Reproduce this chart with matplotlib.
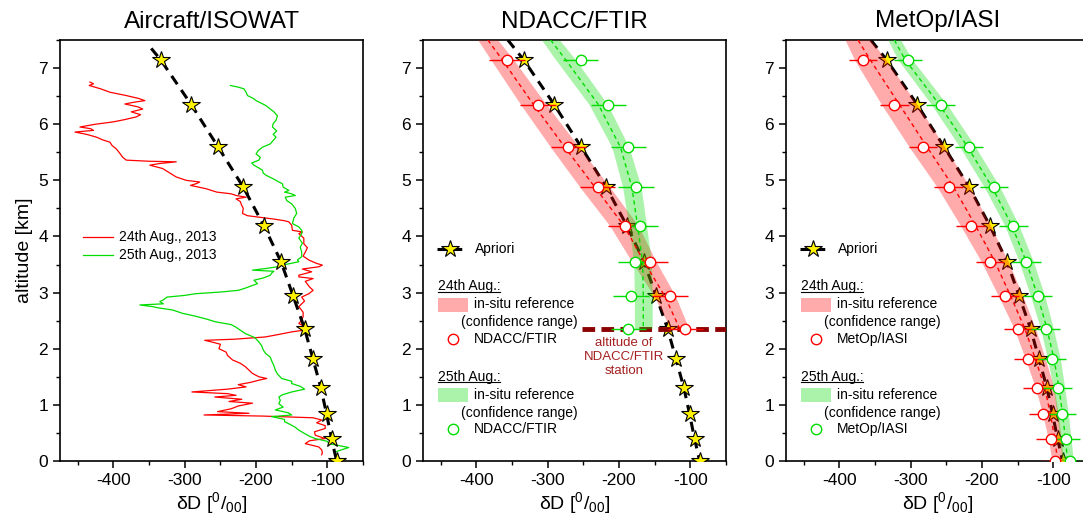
import matplotlib.pyplot as plt
from matplotlib.patches import Rectangle
from matplotlib.ticker import MultipleLocator

plt.rcParams['font.family'] = ['Liberation Sans', 'DejaVu Sans']
plt.rcParams['mathtext.fontset'] = 'custom'
plt.rcParams['mathtext.rm'] = 'Liberation Sans'
plt.rcParams['mathtext.it'] = 'Liberation Sans:italic'
plt.rcParams['axes.unicode_minus'] = False

# apriori profile (same in all panels)
apriori_alt = [7.15, 6.35, 5.59, 4.88, 4.19, 3.55, 2.94, 2.36, 1.81, 1.30, 0.83, 0.39, 0.0]
apriori_dD = [-334, -291, -253, -218, -189, -165, -148, -132, -120, -109, -101, -94, -87]
apriori_top_alt = [7.5, 7.35]      # upper end of the line: panels 2/3, panel 1
apriori_top_dD = [-356, -347]

# aircraft (ISOWAT) profiles
air24_alt = [6.75, 6.72, 6.69, 6.63, 6.57, 6.51, 6.46, 6.42, 6.39, 6.36, 6.31, 6.27, 6.22, 6.17,
             6.13, 6.08, 6.04, 6.00, 5.95, 5.92, 5.89, 5.86, 5.82, 5.77, 5.72, 5.68, 5.62, 5.56,
             5.48, 5.41, 5.36, 5.34, 5.33, 5.30, 5.27, 5.21, 5.14, 5.06, 5.00, 4.97, 4.94, 4.91,
             4.85, 4.79, 4.76, 4.73, 4.70, 4.67, 4.62, 4.58, 4.50, 4.41, 4.37, 4.35, 4.31, 4.28,
             4.26, 4.20, 4.11, 4.08, 4.05, 3.97, 3.87, 3.80, 3.72, 3.65, 3.58, 3.52, 3.49, 3.46,
             3.42, 3.37, 3.31, 3.28, 3.25, 3.20, 3.10, 3.04, 2.98, 2.92, 2.85, 2.75, 2.65, 2.57,
             2.51, 2.45, 2.39, 2.34, 2.30, 2.25, 2.21, 2.17, 2.15, 2.12, 2.08, 2.00, 1.94, 1.88,
             1.80, 1.74, 1.68, 1.62, 1.56, 1.50, 1.47, 1.44, 1.40, 1.36, 1.32, 1.28, 1.23, 1.20,
             1.17, 1.14, 1.10, 1.06, 1.03, 0.98, 0.93, 0.88, 0.85, 0.82, 0.80, 0.77, 0.73, 0.68,
             0.63, 0.58, 0.52, 0.46, 0.40, 0.36, 0.31, 0.25, 0.20, 0.15, 0.11]
air24_dD = [-433, -428, -434, -418, -405, -382, -365, -356, -372, -384, -366, -359, -375, -362,
            -368, -385, -401, -425, -447, -432, -428, -454, -438, -424, -415, -405, -402, -396,
            -391, -387, -382, -350, -312, -335, -349, -331, -322, -312, -298, -279, -284, -292,
            -270, -255, -235, -228, -214, -228, -222, -221, -218, -219, -212, -200, -175, -160,
            -154, -150, -149, -135, -140, -133, -133, -128, -131, -134, -126, -115, -107, -112,
            -135, -122, -140, -140, -120, -131, -125, -120, -126, -136, -132, -140, -134, -134,
            -136, -140, -131, -128, -150, -170, -187, -230, -272, -262, -250, -252, -242, -240,
            -233, -222, -215, -210, -205, -196, -185, -196, -208, -225, -214, -240, -290, -240,
            -228, -258, -220, -238, -205, -225, -235, -254, -210, -273, -190, -120, -108, -115,
            -103, -103, -118, -117, -103, -125, -131, -112, -108, -107, -108]

air25_alt = [6.69, 6.66, 6.63, 6.57, 6.51, 6.46, 6.42, 6.37, 6.33, 6.27, 6.22, 6.15, 6.07, 6.01,
             5.95, 5.88, 5.82, 5.77, 5.71, 5.65, 5.59, 5.53, 5.47, 5.41, 5.36, 5.31, 5.27, 5.22,
             5.18, 5.13, 5.09, 5.04, 5.00, 4.97, 4.94, 4.88, 4.82, 4.79, 4.76, 4.73, 4.70, 4.64,
             4.58, 4.50, 4.41, 4.33, 4.23, 4.17, 4.11, 4.05, 3.97, 3.88, 3.81, 3.72, 3.64, 3.58,
             3.55, 3.51, 3.49, 3.46, 3.43, 3.40, 3.38, 3.35, 3.31, 3.26, 3.22, 3.16, 3.08, 3.04,
             3.01, 2.98, 2.95, 2.92, 2.87, 2.84, 2.80, 2.78, 2.75, 2.73, 2.69, 2.63, 2.58, 2.53,
             2.48, 2.43, 2.39, 2.33, 2.27, 2.20, 2.12, 2.05, 1.98, 1.92, 1.85, 1.78, 1.70, 1.62,
             1.55, 1.47, 1.42, 1.38, 1.33, 1.28, 1.23, 1.18, 1.14, 1.08, 1.02, 0.96, 0.91, 0.86,
             0.82, 0.79, 0.74, 0.70, 0.65, 0.60, 0.55, 0.49, 0.44, 0.40, 0.35, 0.31, 0.27, 0.24,
             0.20, 0.16]
air25_dD = [-236, -225, -217, -214, -212, -204, -200, -192, -186, -180, -175, -170, -172, -176,
            -177, -171, -176, -172, -176, -180, -191, -197, -200, -194, -196, -206, -203, -196,
            -191, -190, -186, -178, -172, -168, -163, -162, -154, -160, -150, -145, -159, -157,
            -150, -145, -143, -147, -149, -140, -136, -136, -140, -135, -138, -136, -136, -142,
            -140, -155, -165, -170, -186, -205, -175, -178, -180, -190, -203, -198, -215, -225,
            -250, -285, -300, -325, -330, -335, -330, -363, -345, -338, -317, -303, -285, -270,
            -257, -235, -229, -222, -215, -202, -196, -192, -190, -187, -180, -178, -175, -173,
            -170, -164, -150, -150, -138, -132, -150, -163, -168, -166, -168, -162, -173, -155,
            -150, -178, -160, -160, -152, -145, -140, -132, -125, -117, -100, -98, -82, -70,
            -80, -89]

# NDACC/FTIR panel
ftir_alt = [7.15, 6.35, 5.59, 4.88, 4.19, 3.55, 2.94, 2.36]
ftir24_dD = [-357, -314, -271, -230, -191, -157, -129, -107]
ftir25_dD = [-254, -215, -187, -176, -171, -177, -183, -187]
ftir_err = [25, 25, 25, 25, 25, 25, 25, 25]
ref_ftir_alt = [7.5, 7.15, 6.35, 5.59, 4.88, 4.19, 3.55, 2.94, 2.36]
ref_ftir24 = [-384, -364, -320, -276, -234, -193, -165, -136, -115]
ref_ftir24_hw = [14, 16, 18, 20, 21, 20, 17, 15, 13]
ref_ftir25 = [-296, -275, -229, -198, -182, -174, -167, -166, -166]
ref_ftir25_hw = [12.5, 14, 13, 12, 13, 12.5, 12.5, 12.5, 12.5]
station_alt = 2.36
station_dD = [-252, -50]

# MetOp/IASI panel
iasi_alt = apriori_alt
iasi24_dD = [-367, -323, -283, -247, -216, -189, -168, -149, -135, -123, -114, -104, -97]
iasi25_dD = [-304, -258, -218, -183, -156, -138, -122, -111, -102, -94, -88, -82, -77]
iasi_err = [20] * 13
ref_iasi_alt = [7.5] + apriori_alt
ref_iasi24 = [-374, -357, -316, -277, -240, -209, -182, -160, -140, -125, -112, -104, -98, -94]
ref_iasi24_hw = [18, 22, 25, 25, 23, 21, 19, 17, 15, 14, 13, 11, 9, 8]
ref_iasi25 = [-323, -308, -260, -220, -186, -158, -138, -122, -109, -99, -92, -87, -83, -80]
ref_iasi25_hw = [9, 10, 11, 11, 11, 10, 10, 10, 9, 9, 8, 8, 8, 8]

RED = '#ff0000'
GREEN = '#00dd00'
STAR = '#fff200'

fig = plt.figure(figsize=(10.83, 5.27), dpi=100)
W, H = 1083, 527


def make_axes(left, title):
    ax = fig.add_axes([left / W, 66 / H, 303 / W, 421 / H])
    ax.set_xlim(-475, -50)
    ax.set_ylim(0, 7.5)
    ax.xaxis.set_major_locator(MultipleLocator(100))
    ax.xaxis.set_minor_locator(MultipleLocator(50))
    ax.yaxis.set_major_locator(MultipleLocator(1))
    ax.yaxis.set_minor_locator(MultipleLocator(0.5))
    ax.set_xticks([-400, -300, -200, -100])
    ax.tick_params(which='major', direction='out', length=5, width=1.1, labelsize=12.5)
    ax.tick_params(which='minor', direction='out', length=3, width=1.0)
    for s in ax.spines.values():
        s.set_linewidth(1.2)
    ax.set_title(title, fontsize=17.5, pad=9)
    ax.set_xlabel('δD [$^{0}$/$_{00}$]', fontsize=14, labelpad=2)
    return ax


def draw_apriori(ax, top):
    ax.plot([apriori_top_dD[top]] + apriori_dD, [apriori_top_alt[top]] + apriori_alt,
            color='black', lw=2.2, ls=(0, (3.3, 2.3)), zorder=2)
    ax.plot(apriori_dD, apriori_alt, ls='none', marker='*', ms=13, mfc=STAR,
            mec='black', mew=0.8, zorder=3)


def draw_ref(ax, alt, center, hw, color, alpha):
    lo = [c - h for c, h in zip(center, hw)]
    hi = [c + h for c, h in zip(center, hw)]
    ax.fill_betweenx(alt, lo, hi, color=color, alpha=alpha, lw=0, zorder=4)
    ax.plot(center, alt, color=color, lw=1.0, ls=(0, (3, 2.5)), zorder=5)


def draw_obs(ax, alt, vals, err, color):
    ax.errorbar(vals, alt, xerr=err, fmt='none', ecolor=color, elinewidth=1.0,
                capsize=0, zorder=6)
    ax.plot(vals, alt, ls='none', marker='o', ms=7.5, mfc='white', mec=color,
            mew=1.0, zorder=7)


def draw_legend(ax, label):
    tr = ax.transAxes
    ax.plot([0.045, 0.135], [0.503, 0.503], transform=tr, color='black', lw=2.2,
            ls=(0, (3.3, 1.5)), clip_on=False)
    ax.plot([0.09], [0.503], transform=tr, ls='none', marker='*', ms=13, mfc=STAR,
            mec='black', mew=0.8, clip_on=False)
    ax.text(0.17, 0.503, 'Apriori', transform=tr, fontsize=10, va='center')
    heads = []
    for y0, color, alpha, day in [(0.415, RED, 0.33, '24th Aug.:'),
                                  (0.200, GREEN, 0.33, '25th Aug.:')]:
        t = ax.text(0.048, y0, day, transform=tr, fontsize=10, va='center')
        heads.append(t)
        ax.add_patch(Rectangle((0.05, y0 - 0.06), 0.10, 0.033, transform=tr,
                               facecolor=color, alpha=alpha, lw=0))
        ax.text(0.167, y0 - 0.043, 'in-situ reference', transform=tr, fontsize=10,
                va='center')
        ax.text(0.125, y0 - 0.086, '(confidence range)', transform=tr, fontsize=10,
                va='center')
        ax.plot([0.10], [y0 - 0.125], transform=tr, ls='none', marker='o', ms=7.5,
                mfc='white', mec=color, mew=1.0, clip_on=False)
        ax.text(0.167, y0 - 0.125, label, transform=tr, fontsize=10, va='center')
    return heads


# panel 1: aircraft
ax1 = make_axes(60, 'Aircraft/ISOWAT')
ax1.plot(air24_dD, air24_alt, color=RED, lw=0.9, zorder=2)
ax1.plot(air25_dD, air25_alt, color=GREEN, lw=0.9, zorder=2)
draw_apriori(ax1, 1)
ax1.set_ylabel('altitude [km]', fontsize=14, labelpad=4)
tr = ax1.transAxes
ax1.plot([0.075, 0.175], [0.533, 0.533], transform=tr, color=RED, lw=0.9)
ax1.plot([0.075, 0.175], [0.489, 0.489], transform=tr, color=GREEN, lw=0.9)
ax1.text(0.194, 0.533, '24th Aug., 2013', transform=tr, fontsize=10, va='center')
ax1.text(0.194, 0.489, '25th Aug., 2013', transform=tr, fontsize=10, va='center')

# panel 2: NDACC/FTIR
ax2 = make_axes(423, 'NDACC/FTIR')
draw_apriori(ax2, 0)
ax2.plot(station_dD, [station_alt, station_alt], color='#8b0000', lw=3.5,
         ls=(0, (2.6, 1.3)), zorder=3)
draw_ref(ax2, ref_ftir_alt, ref_ftir24, ref_ftir24_hw, RED, 0.33)
draw_ref(ax2, ref_ftir_alt, ref_ftir25, ref_ftir25_hw, GREEN, 0.33)
draw_obs(ax2, ftir_alt, ftir24_dD, ftir_err, RED)
draw_obs(ax2, ftir_alt, ftir25_dD, ftir_err, GREEN)
ax2.text(-193, 1.85, 'altitude of\nNDACC/FTIR\nstation', fontsize=9.5, color='#a52020',
         ha='center', va='center', linespacing=1.25)
heads = draw_legend(ax2, 'NDACC/FTIR')

# panel 3: MetOp/IASI
ax3 = make_axes(786, 'MetOp/IASI')
draw_apriori(ax3, 0)
draw_ref(ax3, ref_iasi_alt, ref_iasi24, ref_iasi24_hw, RED, 0.33)
draw_ref(ax3, ref_iasi_alt, ref_iasi25, ref_iasi25_hw, GREEN, 0.33)
draw_obs(ax3, iasi_alt, iasi24_dD, iasi_err, RED)
draw_obs(ax3, iasi_alt, iasi25_dD, iasi_err, GREEN)
heads += draw_legend(ax3, 'MetOp/IASI')

# underline the day headers
fig.canvas.draw()
renderer = fig.canvas.get_renderer()
for t in heads:
    bb = t.get_window_extent(renderer)
    fig.add_artist(plt.Line2D([bb.x0 / W, bb.x1 / W], [(bb.y0 + 1.5) / H] * 2,
                              color='black', lw=0.8))

fig.savefig('out.png', dpi=100)
